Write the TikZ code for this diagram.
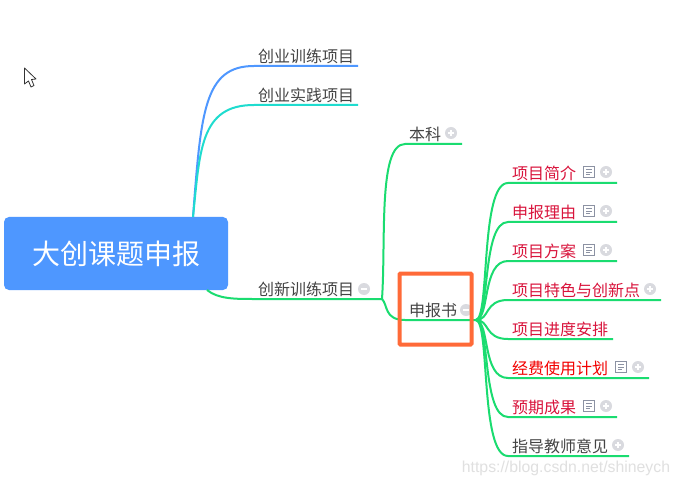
\documentclass[tikz,border=0pt]{standalone}
\usepackage{fontspec}
\setmainfont{Noto Sans CJK SC}
\newfontfamily\markfont{Liberation Sans}
\usepackage{tikz}
\usetikzlibrary{positioning,calc}
\definecolor{rootblue}{HTML}{4E97FF}
\definecolor{linegreen}{HTML}{1ADC70}
\definecolor{lineteal}{HTML}{1FDCCF}
\definecolor{iconlight}{HTML}{D9DADF}
\definecolor{icondark}{HTML}{8C92A3}
\definecolor{textgray}{HTML}{444444}
\definecolor{textred}{HTML}{D9143C}
\definecolor{markorange}{HTML}{FF6A38}
\tikzset{
  root/.style={fill=rootblue,rounded corners=5pt,minimum width=224pt,minimum height=73pt,
    inner sep=0pt,text=white,font=\fontsize{28}{28}\selectfont},
  topic/.style={anchor=south west,inner xsep=4pt,inner ysep=1.5pt,text depth=2pt,
    text=textgray,font=\fontsize{16}{16}\selectfont},
  redtopic/.style={topic,text=textred},
  branch/.style={line width=2pt,color=linegreen},
  plusicon/.style={circle,fill=iconlight,minimum size=12pt,inner sep=0pt,
    path picture={\draw[white,line width=1.4pt]
      ([xshift=3pt]path picture bounding box.west) -- ([xshift=-3pt]path picture bounding box.east)
      ([yshift=-3pt]path picture bounding box.north) -- ([yshift=3pt]path picture bounding box.south);}},
  minusicon/.style={circle,fill=iconlight,minimum size=12pt,inner sep=0pt,
    path picture={\draw[white,line width=1.4pt]
      ([xshift=3pt]path picture bounding box.west) -- ([xshift=-3pt]path picture bounding box.east);}},
  noteicon/.style={draw=icondark,line width=1pt,minimum size=11pt,inner sep=0pt,
    path picture={\draw[icondark,line width=0.8pt]
      ([xshift=2.5pt,yshift=-3pt]path picture bounding box.north west) -- ([xshift=-2.5pt,yshift=-3pt]path picture bounding box.north east)
      ([xshift=2.5pt]path picture bounding box.west) -- ([xshift=-2.5pt]path picture bounding box.east)
      ([xshift=2.5pt,yshift=3pt]path picture bounding box.south west) -- ([xshift=-4.5pt,yshift=3pt]path picture bounding box.south east);}}
}
\begin{document}
\begin{tikzpicture}[x=1pt,y=-1pt]
  \useasboundingbox[fill=white] (0,0) rectangle (679,486);
  % pointer
  \draw[fill=white,draw=black!80,line width=0.8pt,line join=round] (24.5,68) -- (24.5,84) -- (28.5,81) -- (31,87) -- (34,85.5) -- (31.5,79.5) -- (36,79) -- cycle;
  % left side
  \node[root] (main) at (116,253.5) {大创课题申报};
  \coordinate (mainup) at (193,217);
  \coordinate (maindown) at (207,290);
  \node[topic] (xunlian) at (254,66) {创业训练项目};
  \node[topic] (shijian) at (254,105) {创业实践项目};
  \node[topic] (chuangxin) at (254,299) {创新训练项目};
  \coordinate (xunlianend) at (358,66);
  \coordinate (shijianend) at (358,105);
  \coordinate (chuangxinend) at (382,299);
  \node[minusicon] (chuangxinfold) at (364,289) {};
  \draw[line width=2pt,color=rootblue] (mainup) .. controls (201,112) and (204,66) .. (xunlian.south west) -- (xunlianend);
  \draw[line width=2pt,color=lineteal] (mainup) .. controls (200,150) and (200,105) .. (shijian.south west) -- (shijianend);
  \draw[branch] (maindown) .. controls (218,299) and (235,299) .. (chuangxin.south west) -- (chuangxinend);
  % second level
  \node[topic] (benke) at (405,144) {本科};
  \coordinate (benkeend) at (462,144);
  \node[plusicon] (benkefold) at (451,133) {};
  \node[topic] (shenbao) at (405,320) {申报书};
  \coordinate (shenbaoend) at (476,320);
  \node[minusicon] (shenbaofold) at (466,310) {};
  \draw[branch] (chuangxinend) .. controls (386,240) and (378,144) .. (benke.south west) -- (benkeend);
  \draw[branch] (chuangxinend) .. controls (388,305) and (384,320) .. (shenbao.south west) -- (shenbaoend);
  \node[draw=markorange,line width=4pt,rounded corners=1pt,minimum width=72pt,minimum height=71pt,inner sep=0pt] (mark) at (435.5,309) {};
  % third level
  \node[redtopic] (jianjie) at (508,183) {项目简介};
  \node[noteicon] (jianjienote) at (589,172) {};
  \node[plusicon] (jianjiefold) at (606,172) {};
  \coordinate (jianjieend) at (617,183);
  \node[redtopic] (liyou) at (508,222) {申报理由};
  \node[noteicon] (liyounote) at (589,211) {};
  \node[plusicon] (liyoufold) at (606,211) {};
  \coordinate (liyouend) at (617,222);
  \node[redtopic] (fangan) at (508,261) {项目方案};
  \node[noteicon] (fangannote) at (589,250) {};
  \node[plusicon] (fanganfold) at (606,250) {};
  \coordinate (fanganend) at (617,261);
  \node[redtopic] (tese) at (508,300) {项目特色与创新点};
  \node[plusicon] (tesefold) at (650,289) {};
  \coordinate (teseend) at (661,300);
  \node[redtopic] (jindu) at (508,339) {项目进度安排};
  \coordinate (jinduend) at (613,339);
  \node[redtopic,text=red!95!black] (jingfei) at (508,378) {经费使用计划};
  \node[noteicon] (jingfeinote) at (621,367) {};
  \node[plusicon] (jingfeifold) at (638,367) {};
  \coordinate (jingfeiend) at (649,378);
  \node[redtopic] (chengguo) at (508,417) {预期成果};
  \node[noteicon] (chengguonote) at (589,406) {};
  \node[plusicon] (chengguofold) at (606,406) {};
  \coordinate (chengguoend) at (617,417);
  \node[topic] (zhidao) at (508,456) {指导教师意见};
  \node[plusicon] (zhidaofold) at (618,445) {};
  \coordinate (zhidaoend) at (629,456);
  \draw[branch] (shenbaoend) .. controls (490,318) and (480,183) .. (jianjie.south west) -- (jianjieend);
  \draw[branch] (shenbaoend) .. controls (490,318) and (482,222) .. (liyou.south west) -- (liyouend);
  \draw[branch] (shenbaoend) .. controls (490,318) and (482,261) .. (fangan.south west) -- (fanganend);
  \draw[branch] (shenbaoend) .. controls (490,320) and (484,300) .. (tese.south west) -- (teseend);
  \draw[branch] (shenbaoend) .. controls (490,320) and (484,339) .. (jindu.south west) -- (jinduend);
  \draw[branch] (shenbaoend) .. controls (490,322) and (482,378) .. (jingfei.south west) -- (jingfeiend);
  \draw[branch] (shenbaoend) .. controls (490,322) and (482,417) .. (chengguo.south west) -- (chengguoend);
  \draw[branch] (shenbaoend) .. controls (490,322) and (480,456) .. (zhidao.south west) -- (zhidaoend);
  % watermark
  \node[text=black!12,font=\markfont\fontsize{15.8}{16}\selectfont,inner sep=0pt] (watermark) at (566,468) {https://blog.csdn.net/shineych};
\end{tikzpicture}
\end{document}
